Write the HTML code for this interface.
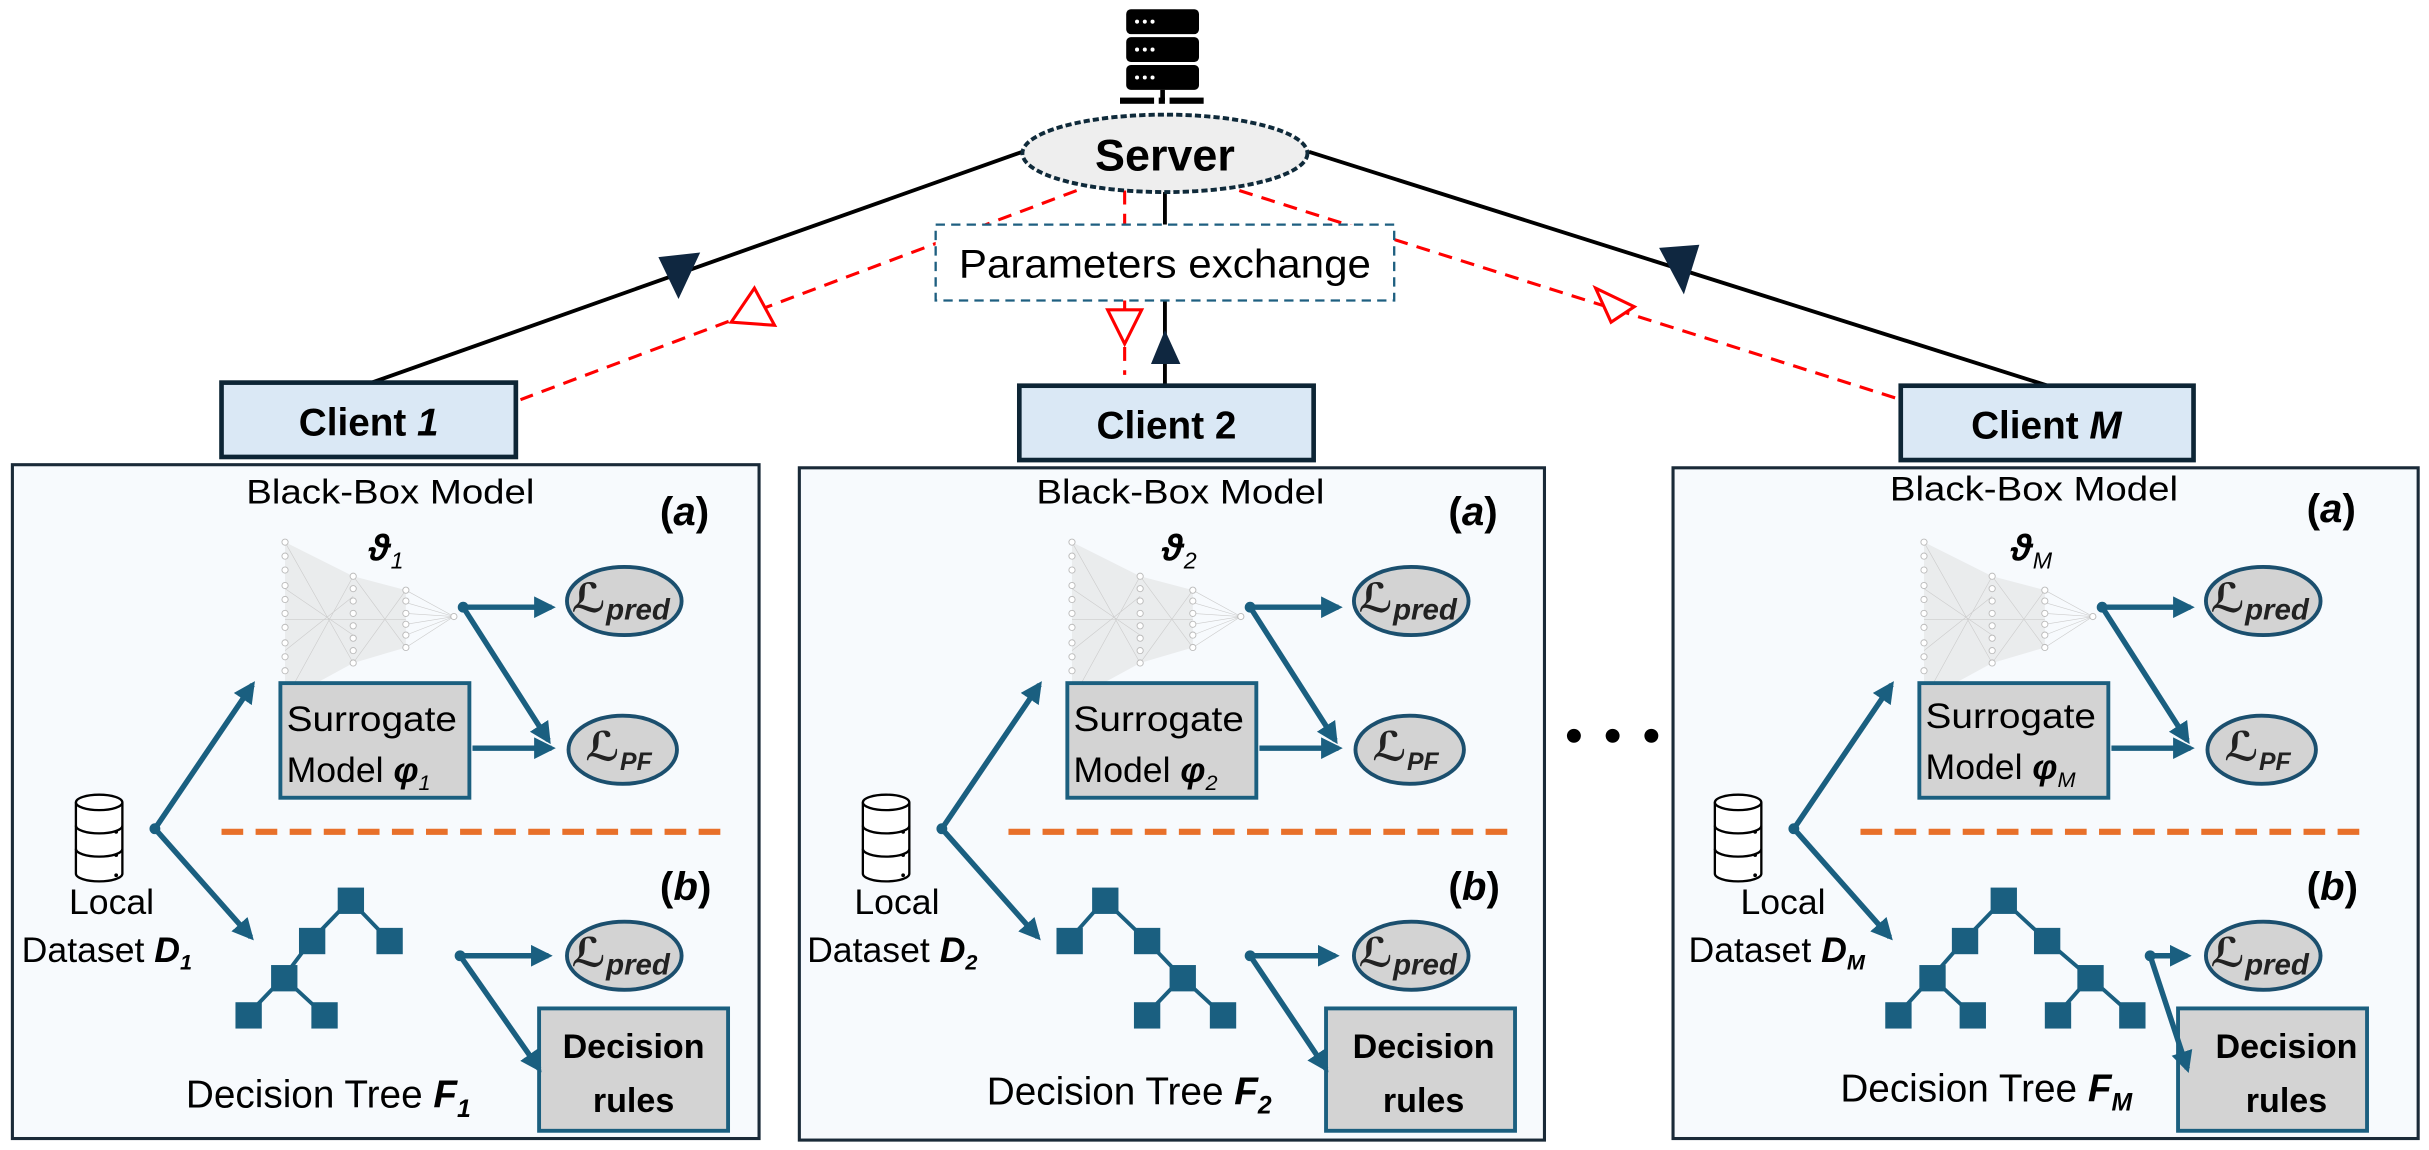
<!DOCTYPE html>
<html><head><meta charset="utf-8"><style>
html,body{margin:0;padding:0;background:#fff;}
svg{display:block;}
text{font-family:"Liberation Sans","DejaVu Sans",sans-serif;}
.ser{font-family:"Liberation Serif","DejaVu Serif",serif;font-style:italic;}
</style></head><body>
<svg width="2429" height="1150" viewBox="0 0 1568 742.4" preserveAspectRatio="none" xmlns="http://www.w3.org/2000/svg">
<defs>
<marker id="ah" markerWidth="4" markerHeight="4" refX="3.2" refY="2" orient="auto" markerUnits="strokeWidth"><path d="M0,0 L4,2 L0,4 z" fill="#1a5f80"/></marker>
<g id="nn">
  <polygon points="184,350 228,372 228,428 184,452" fill="#ddd" opacity="0.5"/>
  <polygon points="228,372 262,381 262,418 228,428" fill="#ddd" opacity="0.5"/>
  <g stroke="#ccc" stroke-width="0.4">
    <path d="M184,350L228,428M184,452L228,372M184,380L228,410M184,420L228,385M184,400L228,400M228,372L262,418M228,428L262,381M228,400L262,400M262,381L293,398M262,389L293,398M262,396L293,398M262,403L293,398M262,410L293,398M262,418L293,398"/>
  </g>
  <g fill="#fff" stroke="#bbb" stroke-width="0.6">
    <circle cx="184" cy="350" r="2"/><circle cx="184" cy="359" r="2"/><circle cx="184" cy="368" r="2"/><circle cx="184" cy="378" r="2"/><circle cx="184" cy="387" r="2"/><circle cx="184" cy="396" r="2"/><circle cx="184" cy="405" r="2"/><circle cx="184" cy="415" r="2"/><circle cx="184" cy="424" r="2"/><circle cx="184" cy="433" r="2"/><circle cx="184" cy="443" r="2"/><circle cx="184" cy="452" r="2"/>
    <circle cx="228" cy="372" r="2"/><circle cx="228" cy="380" r="2"/><circle cx="228" cy="388" r="2"/><circle cx="228" cy="396" r="2"/><circle cx="228" cy="404" r="2"/><circle cx="228" cy="412" r="2"/><circle cx="228" cy="420" r="2"/><circle cx="228" cy="428" r="2"/>
    <circle cx="262" cy="381" r="2"/><circle cx="262" cy="388" r="2"/><circle cx="262" cy="396" r="2"/><circle cx="262" cy="403" r="2"/><circle cx="262" cy="410" r="2"/><circle cx="262" cy="418" r="2"/>
    <circle cx="293" cy="398" r="2"/>
  </g>
</g>
<g id="common">
  <use href="#nn"/>
  <g fill="#fff" stroke="#000" stroke-width="1.5">
    <path d="M49,518 v46 a15,5 0 0 0 30,0 v-46"/>
    <ellipse cx="64" cy="518" rx="15" ry="5"/>
    <path d="M49,533 a15,5 0 0 0 30,0 M49,548 a15,5 0 0 0 30,0" fill="none"/>
  </g>
  <circle cx="75" cy="537" r="1.2"/><circle cx="75" cy="552" r="1.2"/><circle cx="75" cy="565" r="1.2"/>
  <g stroke="#1a5f80" stroke-width="3.5" fill="none">
    <path d="M100,535 L163,442" marker-end="url(#ah)"/>
    <path d="M100,535 L162,605" marker-end="url(#ah)"/>
    <path d="M299,392 L356,392" marker-end="url(#ah)"/>
    <path d="M299,392 L354,478" marker-end="url(#ah)"/>
    <path d="M305,483 L356,483" marker-end="url(#ah)"/>
  </g>
  <circle cx="100" cy="535" r="3.5" fill="#1a5f80"/>
  <circle cx="299" cy="392" r="3.5" fill="#1a5f80"/>
  <line x1="143" y1="537" x2="473" y2="537" stroke="#e8702a" stroke-width="4" stroke-dasharray="14 8"/>
  <ellipse cx="403" cy="388" rx="37" ry="22" fill="#d3d3d3" stroke="#1b4f6e" stroke-width="2.5"/>
  <ellipse cx="402" cy="484" rx="35" ry="22" fill="#d3d3d3" stroke="#1b4f6e" stroke-width="2.5"/>
  <ellipse cx="403" cy="617" rx="37" ry="22" fill="#d3d3d3" stroke="#1b4f6e" stroke-width="2.5"/>
  <rect x="181" y="441" width="122" height="74" fill="#d3d3d3" stroke="#1b5f7f" stroke-width="2.5"/>
  <rect x="348" y="651" width="122" height="79" fill="#d3d3d3" stroke="#1b5f7f" stroke-width="2.5"/>
</g>
</defs>

<g fill="#000">
  <rect x="727" y="6" width="47" height="16" rx="3"/>
  <rect x="727" y="24" width="47" height="16" rx="3"/>
  <rect x="727" y="42" width="47" height="16" rx="3"/>
  <rect x="749" y="58" width="3" height="7"/>
  <rect x="723" y="63" width="22" height="4"/><rect x="748" y="63" width="4" height="4"/><rect x="755" y="63" width="22" height="4"/>
</g>
<g fill="#fff"><circle cx="734" cy="14" r="1.3"/><circle cx="739" cy="14" r="1.3"/><circle cx="744" cy="14" r="1.3"/><circle cx="734" cy="32" r="1.3"/><circle cx="739" cy="32" r="1.3"/><circle cx="744" cy="32" r="1.3"/><circle cx="734" cy="50" r="1.3"/><circle cx="739" cy="50" r="1.3"/><circle cx="744" cy="50" r="1.3"/></g>

<g stroke="#000" stroke-width="2.5" fill="none">
  <line x1="660" y1="98" x2="240" y2="247"/>
  <line x1="845" y1="98" x2="1322" y2="249"/>
  <line x1="752" y1="122" x2="752" y2="145"/>
  <line x1="752" y1="194" x2="752" y2="249"/>
</g>
<g stroke="#f00" stroke-width="2" fill="none" stroke-dasharray="9 6">
  <line x1="695" y1="123" x2="336" y2="258"/>
  <line x1="800" y1="123" x2="1227" y2="258"/>
  <line x1="726" y1="123" x2="726" y2="145"/>
  <line x1="726" y1="194" x2="726" y2="242"/>
</g>
<polygon points="425,166 452,163 438,193" fill="#0f2740"/>
<polygon points="1071,160 1097,158 1087,190" fill="#0f2740"/>
<polygon points="752,213 743,235 762,235" fill="#0f2740"/>
<polygon points="472,208 487,186 500,210" fill="#fff" stroke="#f00" stroke-width="2"/>
<polygon points="1040,208 1030,186 1055,198" fill="#fff" stroke="#f00" stroke-width="2"/>
<polygon points="715,200 737,200 726,222" fill="#fff" stroke="#f00" stroke-width="2"/>

<ellipse cx="752" cy="99" rx="92" ry="25" fill="#eee" stroke="#0f2a3a" stroke-width="2.5" stroke-dasharray="4 2"/>
<text x="752" y="110" font-size="29" font-weight="bold" text-anchor="middle">Server</text>
<rect x="604" y="145" width="296" height="49" fill="#fff" stroke="#1e5f80" stroke-width="1.5" stroke-dasharray="6 4"/>
<text x="752" y="179" font-size="26" text-anchor="middle" textLength="266" lengthAdjust="spacingAndGlyphs">Parameters exchange</text>

<g fill="#dae8f5" stroke="#0d2535" stroke-width="3">
  <rect x="143" y="247" width="190" height="48"/>
  <rect x="658" y="249" width="190" height="48"/>
  <rect x="1227" y="249" width="189" height="48"/>
</g>
<text x="238" y="281" font-size="25" font-weight="bold" text-anchor="middle">Client <tspan font-style="italic">1</tspan></text>
<text x="753" y="283" font-size="25" font-weight="bold" text-anchor="middle">Client 2</text>
<text x="1321" y="283" font-size="25" font-weight="bold" text-anchor="middle">Client <tspan font-style="italic">M</tspan></text>

<g fill="#f7fafd" stroke="#1a2a38" stroke-width="2">
  <rect x="8" y="300" width="482" height="435"/>
  <rect x="516" y="302" width="481" height="434"/>
  <rect x="1080" y="302" width="481" height="433"/>
</g>

<use href="#common"/>
<use href="#common" transform="translate(508,0)"/>
<use href="#common" transform="translate(1058,0)"/>

<g stroke="#1a5f80" stroke-width="2.5">
  <path d="M226,581 L201,607 M226,581 L251,607 M201,607 L183,631 M183,631 L160,655 M183,631 L209,655"/>
  <path d="M713,581 L690,607 M713,581 L740,607 M740,607 L763,631 M763,631 L740,655 M763,631 L789,655"/>
  <path d="M1293,581 L1268,607 M1293,581 L1321,607 M1268,607 L1247,631 M1247,631 L1225,655 M1247,631 L1273,655 M1321,607 L1349,631 M1349,631 L1328,655 M1349,631 L1376,655"/>
</g>
<g fill="#1a5f80">
  <rect x="218" y="573" width="17" height="17"/><rect x="193" y="599" width="17" height="17"/><rect x="243" y="599" width="17" height="17"/><rect x="175" y="623" width="17" height="17"/><rect x="152" y="647" width="17" height="17"/><rect x="201" y="647" width="17" height="17"/>
  <rect x="705" y="573" width="17" height="17"/><rect x="682" y="599" width="17" height="17"/><rect x="732" y="599" width="17" height="17"/><rect x="755" y="623" width="17" height="17"/><rect x="732" y="647" width="17" height="17"/><rect x="781" y="647" width="17" height="17"/>
  <rect x="1285" y="573" width="17" height="17"/><rect x="1260" y="599" width="17" height="17"/><rect x="1313" y="599" width="17" height="17"/><rect x="1239" y="623" width="17" height="17"/><rect x="1341" y="623" width="17" height="17"/><rect x="1217" y="647" width="17" height="17"/><rect x="1265" y="647" width="17" height="17"/><rect x="1320" y="647" width="17" height="17"/><rect x="1368" y="647" width="17" height="17"/>
</g>
<g stroke="#1a5f80" stroke-width="3.5" fill="none">
  <path d="M297,617 L354,617" marker-end="url(#ah)"/><path d="M297,617 L348,690" marker-end="url(#ah)"/>
  <path d="M807,617 L862,617" marker-end="url(#ah)"/><path d="M807,617 L856,690" marker-end="url(#ah)"/>
  <path d="M1388,617 L1412,617" marker-end="url(#ah)"/><path d="M1388,617 L1412,690" marker-end="url(#ah)"/>
</g>
<circle cx="297" cy="617" r="3.5" fill="#1a5f80"/><circle cx="807" cy="617" r="3.5" fill="#1a5f80"/><circle cx="1388" cy="617" r="3.5" fill="#1a5f80"/>

<circle cx="1016" cy="475" r="4.5"/><circle cx="1041" cy="475" r="4.5"/><circle cx="1066" cy="475" r="4.5"/>

<g font-size="22">
  <text x="252" y="325" text-anchor="middle" textLength="186" lengthAdjust="spacingAndGlyphs">Black-Box Model</text>
  <text x="762" y="325" text-anchor="middle" textLength="186" lengthAdjust="spacingAndGlyphs">Black-Box Model</text>
  <text x="1313" y="323" text-anchor="middle" textLength="186" lengthAdjust="spacingAndGlyphs">Black-Box Model</text>
</g>
<g font-size="26" font-weight="bold">
  <text x="426" y="339">(<tspan font-style="italic">a</tspan>)</text>
  <text x="935" y="339">(<tspan font-style="italic">a</tspan>)</text>
  <text x="1489" y="337">(<tspan font-style="italic">a</tspan>)</text>
  <text x="426" y="581">(<tspan font-style="italic">b</tspan>)</text>
  <text x="935" y="581">(<tspan font-style="italic">b</tspan>)</text>
  <text x="1489" y="581">(<tspan font-style="italic">b</tspan>)</text>
</g>
<g class="ser" font-size="24" font-weight="bold">
  <text x="238" y="362">ϑ<tspan font-size="15" font-weight="normal" dy="5">1</tspan></text>
  <text x="750" y="362">ϑ<tspan font-size="15" font-weight="normal" dy="5">2</tspan></text>
  <text x="1298" y="362">ϑ<tspan font-size="15" font-weight="normal" dy="5">M</tspan></text>
</g>
<g class="ser" font-size="26" font-weight="bold" fill="#222">
  <text x="369" y="395">ℒ<tspan font-size="19" dy="5">pred</tspan></text>
  <text x="378" y="491">ℒ<tspan font-size="16" dy="6">PF</tspan></text>
  <text x="369" y="624">ℒ<tspan font-size="19" dy="5">pred</tspan></text>
  <text x="877" y="395">ℒ<tspan font-size="19" dy="5">pred</tspan></text>
  <text x="886" y="491">ℒ<tspan font-size="16" dy="6">PF</tspan></text>
  <text x="877" y="624">ℒ<tspan font-size="19" dy="5">pred</tspan></text>
  <text x="1427" y="395">ℒ<tspan font-size="19" dy="5">pred</tspan></text>
  <text x="1436" y="491">ℒ<tspan font-size="16" dy="6">PF</tspan></text>
  <text x="1427" y="624">ℒ<tspan font-size="19" dy="5">pred</tspan></text>
</g>
<g font-size="23">
  <text x="185" y="472" textLength="110" lengthAdjust="spacingAndGlyphs">Surrogate</text>
  <text x="185" y="505">Model <tspan font-weight="bold" font-style="italic">φ</tspan><tspan font-size="14" font-style="italic" dy="5">1</tspan></text>
  <text x="693" y="472" textLength="110" lengthAdjust="spacingAndGlyphs">Surrogate</text>
  <text x="693" y="505">Model <tspan font-weight="bold" font-style="italic">φ</tspan><tspan font-size="14" font-style="italic" dy="5">2</tspan></text>
  <text x="1243" y="470" textLength="110" lengthAdjust="spacingAndGlyphs">Surrogate</text>
  <text x="1243" y="503">Model <tspan font-weight="bold" font-style="italic">φ</tspan><tspan font-size="14" font-style="italic" dy="5">M</tspan></text>
  <text x="72" y="590" text-anchor="middle">Local</text>
  <text x="14" y="621">Dataset <tspan font-weight="bold" font-style="italic">D</tspan><tspan font-size="14" font-weight="bold" font-style="italic" dy="5">1</tspan></text>
  <text x="579" y="590" text-anchor="middle">Local</text>
  <text x="521" y="621">Dataset <tspan font-weight="bold" font-style="italic">D</tspan><tspan font-size="14" font-weight="bold" font-style="italic" dy="5">2</tspan></text>
  <text x="1151" y="590" text-anchor="middle">Local</text>
  <text x="1090" y="621">Dataset <tspan font-weight="bold" font-style="italic">D</tspan><tspan font-size="14" font-weight="bold" font-style="italic" dy="5">M</tspan></text>
</g>
<g font-size="25">
  <text x="120" y="715">Decision Tree <tspan font-weight="bold" font-style="italic">F</tspan><tspan font-size="16" font-weight="bold" font-style="italic" dy="6">1</tspan></text>
  <text x="637" y="713">Decision Tree <tspan font-weight="bold" font-style="italic">F</tspan><tspan font-size="16" font-weight="bold" font-style="italic" dy="6">2</tspan></text>
  <text x="1188" y="711">Decision Tree <tspan font-weight="bold" font-style="italic">F</tspan><tspan font-size="16" font-weight="bold" font-style="italic" dy="6">M</tspan></text>
</g>
<g font-size="22" font-weight="bold" text-anchor="middle">
  <text x="409" y="683">Decision</text><text x="409" y="718">rules</text>
  <text x="919" y="683">Decision</text><text x="919" y="718">rules</text>
  <text x="1476" y="683">Decision</text><text x="1476" y="718">rules</text>
</g>
</svg>
</body></html>
